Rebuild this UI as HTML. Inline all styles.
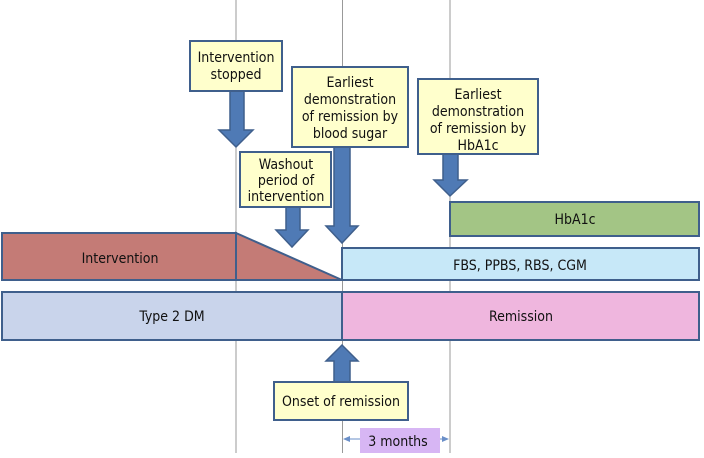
<!DOCTYPE html><html><head><style>body{margin:0;background:#fff}svg text{font-family:"DejaVu Sans Condensed","DejaVu Sans","Liberation Sans",sans-serif;font-size:14px;fill:#111}</style></head><body>
<svg width="704" height="453" viewBox="0 0 704 453" xmlns="http://www.w3.org/2000/svg">
<g stroke="#999" stroke-width="1"><line x1="236" y1="0" x2="236" y2="453"/><line x1="342.5" y1="0" x2="342.5" y2="453"/><line x1="450" y1="0" x2="450" y2="453"/></g>
<g stroke="#3f5f8c" stroke-width="2">
<rect x="450" y="202" width="249" height="34" fill="#a3c585"/>
<rect x="2" y="233" width="234" height="47" fill="#c47b76"/>
<polygon points="236,233 342,280 236,280" fill="#c47b76"/>
<rect x="342" y="248" width="357" height="32" fill="#c7e8f8"/>
<rect x="2" y="292" width="340" height="48" fill="#c9d4eb"/>
<rect x="342" y="292" width="357" height="48" fill="#efb6de"/>
</g>
<g fill="#4f7ab5" stroke="#3f5f8c" stroke-width="1.5">
<polygon points="230,91 244,91 244,130 253,130 236,147 219,130 230,130"/>
<polygon points="334,147 350,147 350,226 358,226 342,243 326,226 334,226"/>
<polygon points="286,207 300,207 300,230 308,230 292,247 276,230 286,230"/>
<polygon points="443,154 458,154 458,180 467,180 450,196 434,180 443,180"/>
<polygon points="334,382 350,382 350,361 358,361 342,345 326,361 334,361"/>
</g>
<g fill="#ffffcc" stroke="#3f5f8c" stroke-width="2">
<rect x="190" y="41" width="92" height="50"/>
<rect x="292" y="67" width="116" height="80"/>
<rect x="240" y="152" width="91" height="55"/>
<rect x="418" y="79" width="120" height="75"/>
<rect x="274" y="382" width="134" height="38"/>
</g>
<rect x="360" y="428" width="80" height="25" fill="#d7b6f4"/>
<g stroke="#6a8fc8" stroke-width="1"><line x1="344" y1="439" x2="360" y2="439"/><line x1="440" y1="439" x2="448" y2="439"/></g>
<polygon points="343,439 350,436 350,442" fill="#6a8fc8"/><polygon points="449,439 442,436 442,442" fill="#6a8fc8"/>
<g text-anchor="middle">
<text x="236" y="62">Intervention</text><text x="236" y="79">stopped</text>
<text x="350" y="87">Earliest</text><text x="350" y="104">demonstration</text><text x="350" y="121">of remission by</text><text x="350" y="138">blood sugar</text>
<text x="286" y="169">Washout</text><text x="286" y="185">period of</text><text x="286" y="201">intervention</text>
<text x="478" y="99">Earliest</text><text x="478" y="116">demonstration</text><text x="478" y="133">of remission by</text><text x="478" y="150">HbA1c</text>
<text x="575" y="224">HbA1c</text>
<text x="120" y="263">Intervention</text>
<text x="520" y="270">FBS, PPBS, RBS, CGM</text>
<text x="172" y="321">Type 2 DM</text>
<text x="521" y="321">Remission</text>
<text x="341" y="406">Onset of remission</text>
<text x="398" y="446">3 months</text>
</g>
</svg></body></html>
